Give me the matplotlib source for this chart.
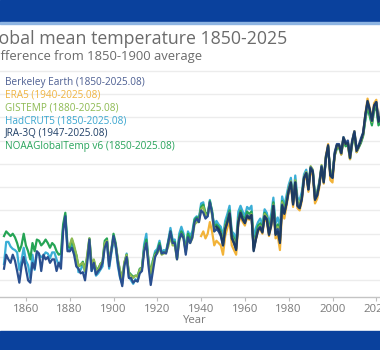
import numpy as np
import matplotlib
matplotlib.use("Agg")
import matplotlib.pyplot as plt
from matplotlib.patches import Rectangle

plt.rcParams['font.family'] = ['Open Sans', 'DejaVu Sans']

years_all = list(range(1850, 2026))

berkeley = [
    -0.10, 0.02, -0.02, -0.05, 0.02, -0.03, -0.12, -0.22, -0.08, 0.00,
    -0.10, -0.20, -0.22, -0.05, -0.10, 0.05, 0.03, -0.12, 0.02, -0.02,
    0.00, -0.05, -0.02, -0.02, -0.12, -0.05, -0.10, 0.22, 0.35, 0.05,
    0.05, 0.08, 0.02, -0.08, -0.10, -0.14, -0.13, -0.20, -0.05, 0.15,
    -0.12, -0.05, -0.15, -0.12, -0.10, -0.05, 0.08, 0.13, -0.08, 0.05,
    0.18, 0.10, -0.05, -0.17, -0.25, -0.07, 0.00, -0.18, -0.18, -0.22,
    -0.20, -0.21, -0.14, -0.12, 0.05, 0.12, -0.08, -0.24, -0.12, 0.00,
    0.04, 0.10, 0.03, 0.04, 0.03, 0.12, 0.22, 0.12, 0.12, -0.02,
    0.15, 0.20, 0.16, 0.02, 0.17, 0.12, 0.17, 0.30, 0.33, 0.30,
    0.40, 0.38, 0.33, 0.35, 0.47, 0.38, 0.22, 0.24, 0.22, 0.18,
    0.10, 0.24, 0.30, 0.38, 0.18, 0.12, 0.07, 0.30, 0.38, 0.33,
    0.30, 0.36, 0.34, 0.36, 0.06, 0.16, 0.24, 0.26, 0.22, 0.35,
    0.33, 0.20, 0.28, 0.44, 0.20, 0.24, 0.14, 0.45, 0.38, 0.46,
    0.57, 0.64, 0.46, 0.64, 0.44, 0.42, 0.50, 0.68, 0.72, 0.58,
    0.77, 0.74, 0.50, 0.53, 0.63, 0.78, 0.65, 0.85, 0.95, 0.70,
    0.68, 0.90, 0.97, 0.97, 0.90, 1.03, 0.98, 1.00, 0.87, 1.00,
    1.08, 0.93, 0.96, 1.02, 1.07, 1.22, 1.33, 1.26, 1.17, 1.30,
    1.33, 1.17, 1.21, 1.54, 1.62, 1.50,
]

hadcrut5 = [
    -0.06, 0.13, 0.13, 0.09, 0.07, 0.06, 0.04, -0.11, -0.03, 0.08,
    -0.03, -0.07, -0.18, 0.02, -0.11, 0.03, 0.02, 0.00, 0.01, 0.04,
    0.03, -0.01, 0.04, 0.04, -0.02, -0.07, -0.03, 0.25, 0.36, 0.07,
    0.05, 0.13, 0.06, 0.01, -0.13, -0.11, -0.06, -0.13, -0.02, 0.10,
    -0.12, -0.06, -0.16, -0.14, -0.11, -0.08, 0.12, 0.14, -0.10, 0.03,
    0.14, 0.08, -0.08, -0.18, -0.23, -0.06, 0.03, -0.17, -0.20, -0.23,
    -0.19, -0.21, -0.11, -0.10, 0.11, 0.20, -0.05, -0.16, -0.03, 0.05,
    0.07, 0.14, 0.04, 0.06, 0.05, 0.14, 0.25, 0.15, 0.15, -0.01,
    0.20, 0.26, 0.20, 0.06, 0.22, 0.18, 0.22, 0.33, 0.35, 0.33,
    0.46, 0.47, 0.34, 0.35, 0.49, 0.38, 0.27, 0.31, 0.28, 0.26,
    0.18, 0.31, 0.37, 0.44, 0.22, 0.20, 0.14, 0.39, 0.44, 0.39,
    0.35, 0.43, 0.41, 0.44, 0.16, 0.25, 0.30, 0.33, 0.28, 0.41,
    0.38, 0.29, 0.37, 0.51, 0.29, 0.34, 0.25, 0.52, 0.44, 0.53,
    0.62, 0.68, 0.50, 0.70, 0.51, 0.49, 0.56, 0.71, 0.75, 0.63,
    0.77, 0.74, 0.52, 0.56, 0.65, 0.78, 0.66, 0.87, 0.94, 0.72,
    0.71, 0.88, 0.95, 0.95, 0.89, 1.02, 0.97, 0.98, 0.85, 0.98,
    1.06, 0.91, 0.95, 0.99, 1.05, 1.18, 1.30, 1.22, 1.14, 1.27,
    1.30, 1.15, 1.17, 1.46, 1.54, 1.41,
]

noaa = [
    0.18, 0.22, 0.20, 0.18, 0.20, 0.17, 0.12, 0.05, 0.10, 0.20,
    0.10, 0.05, -0.02, 0.12, 0.05, 0.15, 0.14, 0.10, 0.12, 0.15,
    0.12, 0.08, 0.12, 0.10, 0.05, 0.02, 0.03, 0.28, 0.38, 0.10,
    0.08, 0.15, 0.08, 0.02, -0.08, -0.07, -0.04, -0.10, 0.00, 0.16,
    -0.06, -0.03, -0.10, -0.10, -0.06, -0.04, 0.14, 0.16, -0.04, 0.06,
    0.20, 0.12, -0.03, -0.12, -0.18, -0.05, 0.02, -0.13, -0.15, -0.17,
    -0.16, -0.16, -0.10, -0.09, 0.08, 0.15, -0.03, -0.14, -0.03, 0.03,
    0.05, 0.12, 0.03, 0.04, 0.04, 0.13, 0.22, 0.13, 0.13, -0.01,
    0.17, 0.22, 0.18, 0.05, 0.20, 0.15, 0.19, 0.32, 0.34, 0.33,
    0.43, 0.45, 0.38, 0.37, 0.48, 0.40, 0.25, 0.28, 0.26, 0.22,
    0.12, 0.27, 0.33, 0.40, 0.20, 0.16, 0.10, 0.33, 0.40, 0.35,
    0.32, 0.39, 0.37, 0.39, 0.10, 0.19, 0.27, 0.29, 0.25, 0.38,
    0.35, 0.24, 0.32, 0.47, 0.24, 0.28, 0.18, 0.48, 0.41, 0.49,
    0.58, 0.63, 0.47, 0.65, 0.47, 0.45, 0.52, 0.67, 0.72, 0.60,
    0.76, 0.73, 0.51, 0.55, 0.63, 0.76, 0.64, 0.85, 0.93, 0.72,
    0.71, 0.87, 0.93, 0.94, 0.88, 1.00, 0.95, 0.96, 0.84, 0.97,
    1.05, 0.90, 0.94, 0.98, 1.04, 1.18, 1.29, 1.21, 1.13, 1.26,
    1.28, 1.13, 1.16, 1.45, 1.54, 1.42,
]

gistemp_years = list(range(1880, 2026))
gistemp = [
    0.10, 0.16, 0.10, 0.02, -0.08, -0.06, -0.05, -0.12, 0.02, 0.16,
    -0.08, -0.02, -0.10, -0.12, -0.06, -0.04, 0.12, 0.14, -0.04, 0.06,
    0.16, 0.10, -0.02, -0.12, -0.18, -0.04, 0.02, -0.14, -0.16, -0.18,
    -0.16, -0.17, -0.11, -0.09, 0.06, 0.12, -0.04, -0.14, -0.05, 0.02,
    0.03, 0.08, 0.02, 0.03, 0.04, 0.09, 0.18, 0.10, 0.10, -0.02,
    0.14, 0.20, 0.16, 0.04, 0.16, 0.12, 0.16, 0.28, 0.30, 0.30,
    0.41, 0.43, 0.36, 0.36, 0.46, 0.36, 0.22, 0.25, 0.23, 0.21,
    0.12, 0.26, 0.31, 0.38, 0.18, 0.14, 0.09, 0.32, 0.38, 0.33,
    0.30, 0.36, 0.34, 0.37, 0.08, 0.17, 0.24, 0.27, 0.23, 0.37,
    0.34, 0.22, 0.30, 0.45, 0.22, 0.26, 0.16, 0.47, 0.39, 0.48,
    0.59, 0.65, 0.48, 0.66, 0.47, 0.45, 0.52, 0.69, 0.73, 0.60,
    0.78, 0.75, 0.52, 0.55, 0.64, 0.79, 0.66, 0.86, 0.95, 0.73,
    0.72, 0.89, 0.96, 0.96, 0.90, 1.03, 0.98, 0.99, 0.86, 1.00,
    1.08, 0.93, 0.96, 1.00, 1.06, 1.20, 1.32, 1.25, 1.16, 1.29,
    1.32, 1.16, 1.19, 1.49, 1.57, 1.45,
]

era5_years = list(range(1940, 2026))
era5 = [
    0.18, 0.22, 0.16, 0.20, 0.30, 0.22, 0.10, 0.14, 0.12, 0.10,
    0.02, 0.18, 0.25, 0.32, 0.10, 0.06, 0.02, 0.28, 0.35, 0.30,
    0.27, 0.34, 0.32, 0.35, 0.08, 0.15, 0.22, 0.24, 0.20, 0.34,
    0.30, 0.18, 0.26, 0.42, 0.16, 0.18, 0.06, 0.40, 0.33, 0.44,
    0.55, 0.62, 0.43, 0.63, 0.42, 0.40, 0.48, 0.66, 0.70, 0.56,
    0.74, 0.70, 0.46, 0.50, 0.60, 0.76, 0.63, 0.87, 0.97, 0.66,
    0.64, 0.87, 0.96, 0.96, 0.88, 1.02, 0.97, 0.98, 0.84, 0.99,
    1.08, 0.90, 0.95, 1.00, 1.06, 1.23, 1.36, 1.28, 1.18, 1.32,
    1.35, 1.17, 1.21, 1.48, 1.60, 1.46,
]

jra3q_years = list(range(1947, 2026))
jra3q = [
    0.26, 0.24, 0.20, 0.10, 0.24, 0.30, 0.37, 0.16, 0.12, 0.06,
    0.30, 0.38, 0.32, 0.29, 0.35, 0.33, 0.36, 0.05, 0.15, 0.23,
    0.25, 0.21, 0.35, 0.32, 0.19, 0.27, 0.44, 0.19, 0.22, 0.12,
    0.44, 0.37, 0.46, 0.57, 0.64, 0.45, 0.64, 0.44, 0.42, 0.50,
    0.68, 0.72, 0.58, 0.76, 0.73, 0.49, 0.53, 0.62, 0.77, 0.64,
    0.86, 0.96, 0.70, 0.68, 0.88, 0.96, 0.96, 0.89, 1.02, 0.97,
    0.98, 0.85, 0.99, 1.07, 0.91, 0.95, 1.00, 1.06, 1.22, 1.34,
    1.27, 1.17, 1.30, 1.33, 1.16, 1.20, 1.50, 1.59, 1.47,
]

legend_labels = [
    "Berkeley Earth (1850-2025.08)",
    "ERA5 (1940-2025.08)",
    "GISTEMP (1880-2025.08)",
    "HadCRUT5 (1850-2025.08)",
    "JRA-3Q (1947-2025.08)",
    "NOAAGlobalTemp v6 (1850-2025.08)",
]
legend_colors = ["#4d5f92", "#f0b440", "#8dba52", "#3aa6d0", "#1f3f66", "#27a35a"]
line_colors = {
    "Berkeley": "#2a4f8f",
    "ERA5": "#f2b338",
    "GISTEMP": "#8dba52",
    "HadCRUT5": "#3aaed6",
    "JRA": "#1d3c63",
    "NOAA": "#25a455",
}
xticks = [1860, 1880, 1900, 1920, 1940, 1960, 1980, 2000, 2020]
yticks = [-0.2, 0.0, 0.2, 0.4, 0.6, 0.8, 1.0, 1.2, 1.4, 1.6]

W, H = 380, 350
fig = plt.figure(figsize=(W / 100, H / 100), dpi=100)
fig.patch.set_facecolor("white")

x0, x1 = 1848, 2026
y0, y1 = -0.343, 1.65
pxyr = 2.19
left_px = 4 - (1850 - x0) * pxyr
width_px = (x1 - x0) * pxyr
bottom_px = 297
height_px = (y1 - y0) * 116.5
ax = fig.add_axes([left_px / W, (H - bottom_px) / H, width_px / W, height_px / H])
ax.set_xlim(x0, x1)
ax.set_ylim(y0, y1)

lw = 1.6
ax.plot(years_all, hadcrut5, color=line_colors["HadCRUT5"], lw=lw, zorder=2)
ax.plot(years_all, noaa, color=line_colors["NOAA"], lw=lw, zorder=3)
ax.plot(gistemp_years, gistemp, color=line_colors["GISTEMP"], lw=lw, zorder=4)
ax.plot(era5_years, era5, color=line_colors["ERA5"], lw=lw, zorder=5)
ax.plot(years_all, berkeley, color=line_colors["Berkeley"], lw=lw, zorder=6)
ax.plot(jra3q_years, jra3q, color=line_colors["JRA"], lw=lw, zorder=7)

ax.set_yticks(yticks)
ax.yaxis.grid(True, color="#ececec", lw=1.0)
ax.set_axisbelow(True)
ax.tick_params(axis="y", left=False, labelleft=False)
ax.set_xticks(xticks)
ax.tick_params(axis="x", colors="#bdbdbd", length=3, width=0.8, labelcolor="#7a7a7a",
               labelsize=8.2, pad=2)
for s in ["top", "right", "left"]:
    ax.spines[s].set_visible(False)
ax.spines["bottom"].set_color("#c4c4c4")
ax.spines["bottom"].set_linewidth(1.0)
ax.set_xlabel("Year", color="#7a7a7a", fontsize=8.2, labelpad=0)

# title / subtitle (the reference image is cropped at the left edge)
fig.text(287 / W, 1 - 43.5 / H, "Global mean temperature 1850-2025", ha="right", va="baseline",
         fontsize=12.8, color="#6b6b6b")
fig.text(202 / W, 1 - 60 / H, "Difference from 1850-1900 average", ha="right", va="baseline",
         fontsize=9.4, color="#6b6b6b")

# legend entries as coloured text
base = [85, 97.8, 110.6, 123.4, 136.2, 149]
for lab, col, b in zip(legend_labels, legend_colors, base):
    fig.text(5 / W, 1 - b / H, lab, ha="left", va="baseline", fontsize=7.2, color=col)

# bands
fig.patches.append(Rectangle((0, 1 - 22 / H), 1, 22 / H, transform=fig.transFigure,
                             color="#0a419d", zorder=10))
fig.patches.append(Rectangle((0, 1 - 24 / H), 1, 2 / H, transform=fig.transFigure,
                             color="#8db4e2", zorder=10))
fig.patches.append(Rectangle((0, 0), 1, 19 / H, transform=fig.transFigure,
                             color="#0a419d", zorder=10))

fig.savefig("out.png", dpi=100)
